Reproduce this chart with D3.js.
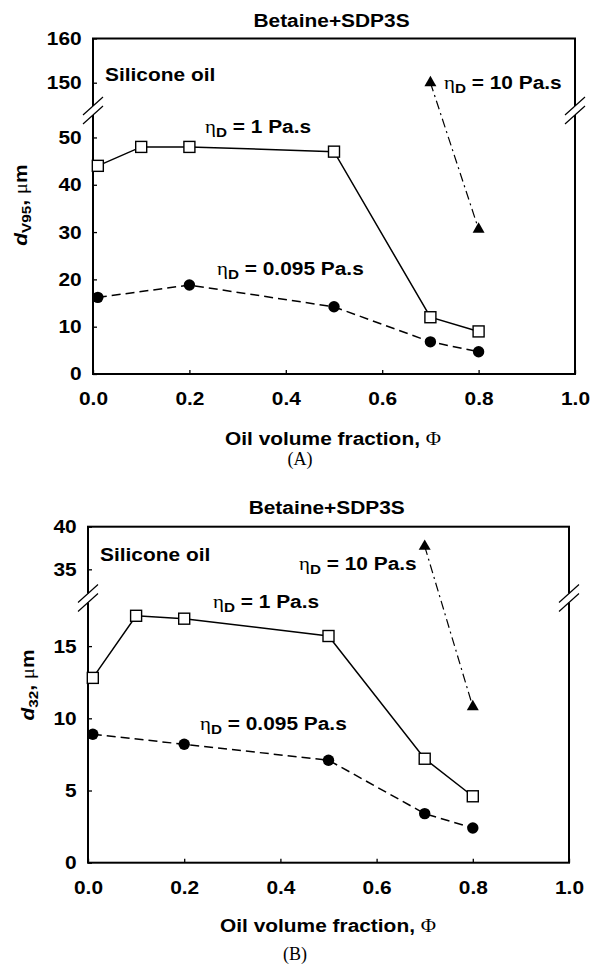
<!DOCTYPE html>
<meta charset="utf-8">
<style>

body { margin: 0; background: #fff; }

text {
  font-family: "Liberation Sans", Arial, sans-serif;
  font-weight: bold;
  font-size: 18.5px;
  fill: #000;
}

.serif {
  font-family: "Liberation Serif", "Times New Roman", serif;
  font-weight: normal;
}

.frame {
  fill: none;
  stroke: #000;
  stroke-width: 2px;
}

</style>
<body></body>
<script src="https://d3js.org/d3.v7.min.js"></script>
<script>

var xTicks = [0, 0.2, 0.4, 0.6, 0.8, 1.0];
var phiEta1 = [0.01, 0.1, 0.2, 0.5, 0.7, 0.8];
var phiEta095 = [0.01, 0.2, 0.5, 0.7, 0.8];
var phiEta10 = [0.7, 0.8];

// (A) d_V95
var yTicksA = [0, 10, 20, 30, 40, 50, 150, 160];
var dv95Eta1 = [44, 48, 48, 47, 12, 9];
var dv95Eta095 = [16.2, 18.8, 14.2, 6.8, 4.7];
var dv95Eta10 = [150, 30.6];

// (B) d_32
var yTicksB = [0, 5, 10, 15, 35, 40];
var d32Eta1 = [12.8, 17.1, 16.9, 15.7, 7.2, 4.6];
var d32Eta095 = [8.9, 8.2, 7.1, 3.4, 2.4];
var d32Eta10 = [37.7, 10.8];

var SX = 1.13; // text in the original is a bit wide

var width = 591,
    height = 967;

var svg = d3.select("body").append("svg")
    .attr("width", width)
    .attr("height", height);

function zip(a, b) { return a.map(function(v, i) { return [v, b[i]]; }); }

function etaLabel(g, x, y, rest) {
  var t = g.append("text")
      .attr("transform", "translate(" + x + "," + y + ") scale(" + SX + ",1)");
  t.append("tspan").attr("class", "serif").text("η");
  t.append("tspan").attr("font-size", "13.5px").attr("dy", 4).text("D");
  t.append("tspan").attr("dy", -4).text(" = " + rest);
}

function plainText(g, x, y, str, anchor) {
  return g.append("text")
      .attr("transform", "translate(" + x + "," + y + ") scale(" + SX + ",1)")
      .attr("text-anchor", anchor || "start")
      .text(str);
}

function panel(p) {
  var g = svg.append("g");

  var x = d3.scaleLinear().domain([0, 1]).range([p.left, p.right]);
  var y = d3.scaleLinear().domain(p.yDomain).range(p.yRange);

  g.append("rect").attr("class", "frame")
      .attr("x", p.left).attr("y", p.top)
      .attr("width", p.right - p.left).attr("height", p.bottom - p.top);

  // axes, ticks pointing inward
  var xa = g.append("g")
      .attr("transform", "translate(0," + p.bottom + ")")
      .call(d3.axisBottom(x).tickValues(xTicks).tickFormat(d3.format(".1f"))
        .tickSizeInner(-4).tickSizeOuter(0).tickPadding(18));
  xa.select(".domain").remove();
  xa.selectAll("line").attr("stroke-width", 1.3);
  xa.selectAll("text").attr("transform", "scale(" + SX + ",1)");

  var ya = g.append("g")
      .attr("transform", "translate(" + p.left + ",0)")
      .call(d3.axisLeft(y).tickValues(p.yTicks).tickFormat(d3.format("d"))
        .tickSizeInner(-4).tickSizeOuter(0).tickPadding(10));
  ya.select(".domain").remove();
  ya.selectAll("line").attr("stroke-width", 1.3);
  ya.selectAll("text").attr("transform", "scale(" + SX + ",1)");

  // axis breaks
  [p.left, p.right].forEach(function(bx) {
    g.append("rect")
        .attr("x", bx - 3).attr("y", p.breakY - 4.5)
        .attr("width", 6).attr("height", 9)
        .attr("fill", "#fff");
    [-4.5, 4.5].forEach(function(off) {
      g.append("line")
          .attr("x1", bx - 10).attr("y1", p.breakY + off + 9)
          .attr("x2", bx + 10).attr("y2", p.breakY + off - 9)
          .attr("stroke", "#000").attr("stroke-width", 1.2);
    });
  });

  var line = d3.line()
      .x(function(d) { return x(d[0]); })
      .y(function(d) { return y(d[1]); });

  var s1 = zip(phiEta1, p.eta1),
      s2 = zip(phiEta095, p.eta095),
      s3 = zip(phiEta10, p.eta10);

  g.append("path").datum(s1).attr("d", line)
      .attr("fill", "none").attr("stroke", "#000").attr("stroke-width", 1.5);
  g.append("path").datum(s2).attr("d", line)
      .attr("fill", "none").attr("stroke", "#000").attr("stroke-width", 1.5)
      .attr("stroke-dasharray", "9,5");
  g.append("path").datum(s3).attr("d", line)
      .attr("fill", "none").attr("stroke", "#000").attr("stroke-width", 1.2)
      .attr("stroke-dasharray", "9,4,2,4");

  g.selectAll(".sq").data(s1).enter().append("rect")
      .attr("x", function(d) { return x(d[0]) - 5.5; })
      .attr("y", function(d) { return y(d[1]) - 5.5; })
      .attr("width", 11).attr("height", 11)
      .attr("fill", "#fff").attr("stroke", "#000").attr("stroke-width", 1.4);

  g.selectAll(".dot").data(s2).enter().append("circle")
      .attr("cx", function(d) { return x(d[0]); })
      .attr("cy", function(d) { return y(d[1]); })
      .attr("r", 5.7)
      .attr("fill", "#000");

  g.selectAll(".tri").data(s3).enter().append("path")
      .attr("d", d3.symbol(d3.symbolTriangle).size(62))
      .attr("transform", function(d) { return "translate(" + x(d[0]) + "," + y(d[1]) + ")"; })
      .attr("fill", "#000");

  // texts
  plainText(g, p.titleX, p.titleY, "Betaine+SDP3S", "middle");
  plainText(g, p.left + 12, p.siliconeY, "Silicone oil");
  etaLabel(g, p.eta1Lab[0], p.eta1Lab[1], "1 Pa.s");
  etaLabel(g, p.eta10Lab[0], p.eta10Lab[1], "10 Pa.s");
  etaLabel(g, p.eta095Lab[0], p.eta095Lab[1], "0.095 Pa.s");

  var xt = g.append("text")
      .attr("transform", "translate(" + p.xTitleX + "," + p.xTitleY + ") scale(" + SX + ",1)")
      .attr("text-anchor", "middle");
  xt.append("tspan").text("Oil volume fraction, ");
  xt.append("tspan").attr("class", "serif").text("Φ");

  var yt = g.append("text")
      .attr("transform", "translate(" + p.yTitleX + "," + p.yTitleY + ") rotate(-90) scale(" + SX + ",1)")
      .attr("text-anchor", "middle");
  yt.append("tspan").style("font-style", "italic").text("d");
  yt.append("tspan").attr("font-size", "13.5px").attr("dy", 4).text(p.ySub);
  yt.append("tspan").attr("dy", -4).text(", ");
  yt.append("tspan").attr("class", "serif").text("μ");
  yt.append("tspan").text("m");

  g.append("text").attr("class", "serif")
      .attr("x", p.tagX).attr("y", p.tagY)
      .attr("text-anchor", "middle")
      .attr("font-size", "18px")
      .style("font-size", "18px")
      .text(p.tag);
}

panel({
  left: 93, right: 575, top: 38.5, bottom: 374,
  yDomain: [0, 55, 145, 160], yRange: [374, 113.8, 104.8, 38.5],
  yTicks: yTicksA, breakY: 110.5,
  eta1: dv95Eta1, eta095: dv95Eta095, eta10: dv95Eta10,
  titleX: 331.5, titleY: 26.7,
  siliconeY: 80.7,
  eta1Lab: [205, 132.5], eta10Lab: [444, 88.5], eta095Lab: [217, 275],
  xTitleX: 333, xTitleY: 444.5,
  yTitleX: 27, yTitleY: 205, ySub: "V95",
  tag: "(A)", tagX: 300, tagY: 465
});

panel({
  left: 88, right: 569, top: 526.7, bottom: 862.7,
  yDomain: [0, 18, 32, 40], yRange: [862.7, 602.8, 594.9, 526.7],
  yTicks: yTicksB, breakY: 598,
  eta1: d32Eta1, eta095: d32Eta095, eta10: d32Eta10,
  titleX: 326.7, titleY: 514,
  siliconeY: 560.7,
  eta1Lab: [213, 608], eta10Lab: [299, 570], eta095Lab: [200, 730],
  xTitleX: 328, xTitleY: 932,
  yTitleX: 34, yTitleY: 685, ySub: "32",
  tag: "(B)", tagX: 295, tagY: 960
});

</script>
